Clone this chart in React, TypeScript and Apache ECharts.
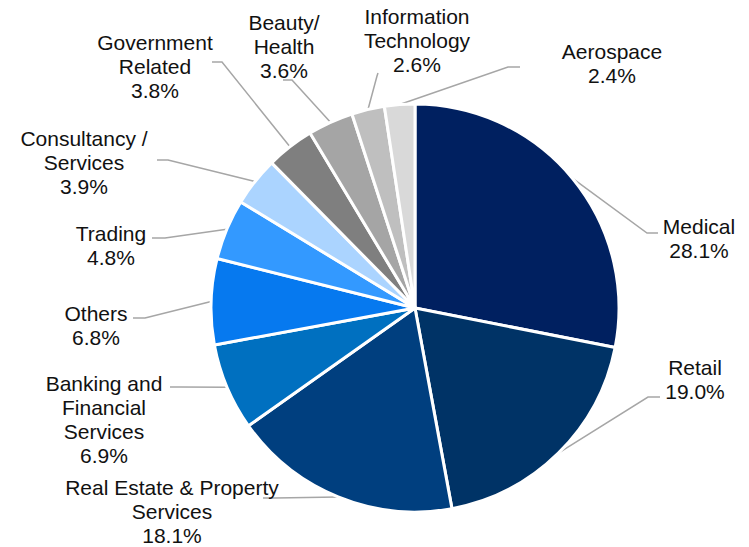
import React, { useEffect, useRef } from "react";
import * as echarts from "echarts";

const categories = [
  "Medical",
  "Retail",
  "Real Estate & Property\nServices",
  "Banking and\nFinancial\nServices",
  "Others",
  "Trading",
  "Consultancy /\nServices",
  "Government\nRelated",
  "Beauty/\nHealth",
  "Information\nTechnology",
  "Aerospace",
];
const shares = [28.1, 19.0, 18.1, 6.9, 6.8, 4.8, 3.9, 3.8, 3.6, 2.6, 2.4];
const colors = [
  "#002060",
  "#003366",
  "#003f7f",
  "#0070c0",
  "#0679ef",
  "#3399ff",
  "#abd4ff",
  "#7f7f7f",
  "#a5a5a5",
  "#bfbfbf",
  "#d9d9d9",
];

// label block centres and leader-line ends (layout, not data)
const labelPos: number[][] = [
  [699, 238],
  [695, 379],
  [172, 511],
  [104, 419],
  [96, 325],
  [111, 245],
  [84, 162],
  [155, 66],
  [284, 46],
  [417, 40],
  [612, 63],
];
const lineElbow: number[][] = [
  [647, 233],
  [648, 397],
  [275, 498],
  [180, 387],
  [145, 318],
  [165, 238],
  [168, 160],
  [222, 62],
  [292, 80],
  [377, 76],
  [508, 67],
];
const lineEnd: number[][] = [
  [658, 233],
  [660, 397],
  [263, 498],
  [170, 387],
  [133, 318],
  [152, 238],
  [157, 160],
  [212, 62],
  [283, 80],
  [378, 73],
  [520, 67],
];

export default function App() {
  const ref = useRef<HTMLDivElement>(null);
  useEffect(() => {
    document.body.style.margin = "0";
    const chart = echarts.init(ref.current!, null, { renderer: "svg" });
    chart.setOption({
      animation: false,
      backgroundColor: "#ffffff",
      series: [
        {
          type: "pie",
          center: [415, 308],
          radius: [0, 204],
          startAngle: 90,
          clockwise: true,
          avoidLabelOverlap: false,
          itemStyle: { borderColor: "#ffffff", borderWidth: 3 },
          label: {
            show: true,
            position: "outside",
            fontFamily: "'Liberation Sans', Arial, sans-serif",
            fontSize: 21,
            lineHeight: 24,
            color: "#111111",
            align: "center",
            formatter: (p: any) => `${p.name}\n${Number(p.value).toFixed(1)}%`,
          },
          labelLine: {
            show: true,
            length: 20,
            length2: 10,
            lineStyle: { color: "#a6a6a6", width: 1.5 },
          },
          labelLayout: (params: any) => {
            const i = params.dataIndex;
            const p0 = params.labelLinePoints ? params.labelLinePoints[0] : lineElbow[i];
            return {
              x: labelPos[i][0],
              y: labelPos[i][1],
              align: "center",
              verticalAlign: "middle",
              labelLinePoints: [p0, lineElbow[i], lineEnd[i]],
            };
          },
          data: categories.map((name, i) => ({
            name,
            value: shares[i],
            itemStyle: { color: colors[i] },
          })),
        },
      ],
    });
    return () => chart.dispose();
  }, []);
  return (
    <div
      ref={ref}
      style={{ width: 749, height: 547, position: "absolute", left: 0, top: 0 }}
    />
  );
}
